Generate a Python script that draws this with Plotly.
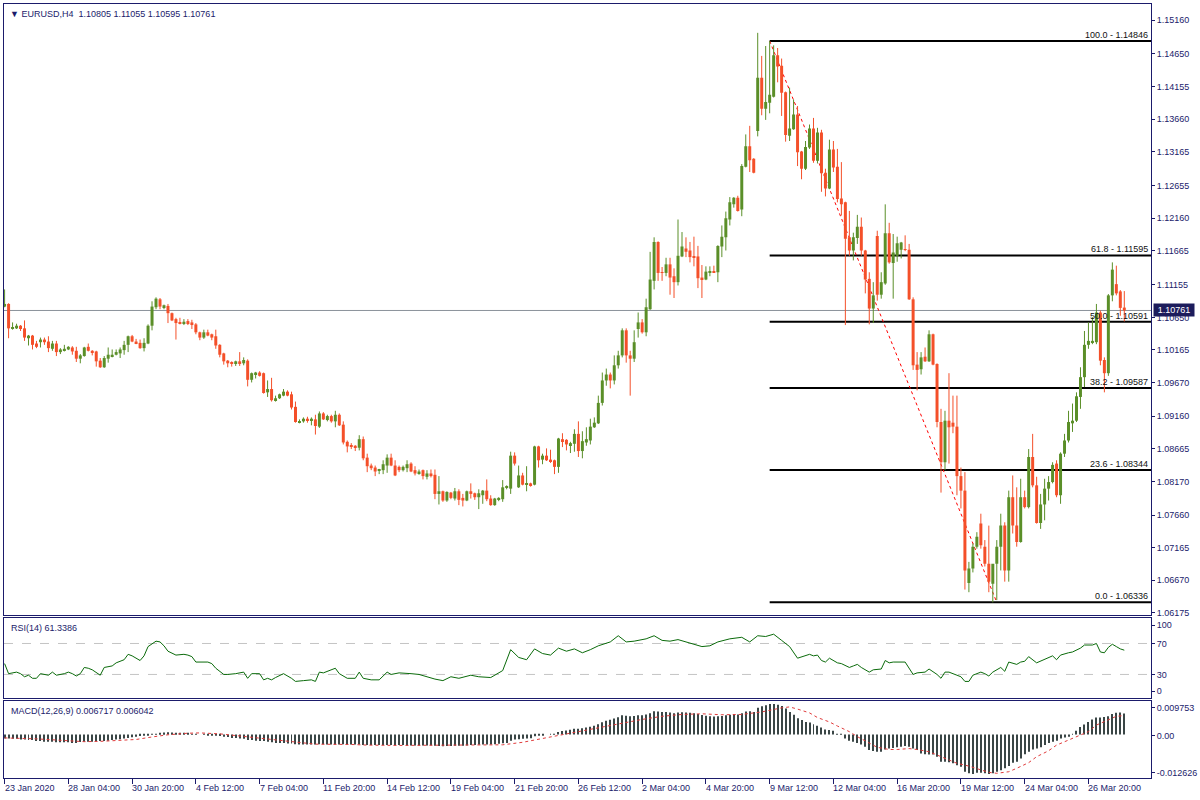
import plotly.graph_objects as go

# ---------------- data (EURUSD H4, bar index 0..281) ----------------
opens = [
1.1082, 1.1086, 1.1049, 1.1049, 1.1053, 1.1049, 1.1034, 1.1038, 1.1026, 1.1028,
1.1032, 1.1029, 1.1018, 1.1026, 1.1013, 1.1015, 1.1017, 1.1020, 1.1015, 1.1003,
1.1007, 1.1021, 1.1015, 1.1014, 1.1000, 1.0990, 1.1003, 1.1006, 1.1009, 1.1011,
1.1016, 1.1024, 1.1037, 1.1029, 1.1027, 1.1019, 1.1026, 1.1053, 1.1081, 1.1093,
1.1081, 1.1083, 1.1072, 1.1063, 1.1058, 1.1057, 1.1060, 1.1058, 1.1055, 1.1043,
1.1035, 1.1043, 1.1040, 1.1037, 1.1024, 1.1011, 1.1000, 1.0998, 1.0996, 1.0999,
1.0996, 1.1000, 1.0971, 1.0979, 1.0982, 1.0981, 1.0952, 1.0957, 1.0940, 1.0943,
1.0947, 1.0953, 1.0949, 1.0930, 1.0907, 1.0908, 1.0912, 1.0909, 1.0911, 1.0900,
1.0920, 1.0910, 1.0916, 1.0908, 1.0918, 1.0903, 1.0877, 1.0872, 1.0871, 1.0868,
1.0881, 1.0853, 1.0841, 1.0838, 1.0833, 1.0834, 1.0841, 1.0853, 1.0841, 1.0839,
1.0834, 1.0837, 1.0844, 1.0834, 1.0829, 1.0834, 1.0824, 1.0829, 1.0827, 1.0798,
1.0802, 1.0788, 1.0800, 1.0791, 1.0802, 1.0792, 1.0788, 1.0802, 1.0799, 1.0793,
1.0796, 1.0803, 1.0791, 1.0781, 1.0790, 1.0790, 1.0808, 1.0806, 1.0856, 1.0808,
1.0826, 1.0812, 1.0814, 1.0812, 1.0870, 1.0850, 1.0856, 1.0850, 1.0849, 1.0839,
1.0881, 1.0880, 1.0872, 1.0874, 1.0889, 1.0863, 1.0876, 1.0879, 1.0899, 1.0905,
1.0936, 1.0970, 1.0979, 1.0970, 1.0993, 1.1008, 1.1046, 1.1008, 1.1003, 1.1048,
1.1058, 1.1043, 1.1078, 1.1121, 1.1180, 1.1134, 1.1133, 1.1146, 1.1128, 1.1119,
1.1158, 1.1170, 1.1167, 1.1158, 1.1158, 1.1126, 1.1123, 1.1133, 1.1136, 1.1134,
1.1173, 1.1187, 1.1214, 1.1237, 1.1247, 1.1229, 1.1294, 1.1325, 1.1306, 1.1348,
1.1429, 1.1382, 1.1391, 1.1400, 1.1463, 1.1447, 1.1407, 1.1341, 1.1351, 1.1373,
1.1317, 1.1291, 1.1323, 1.1352, 1.1303, 1.1346, 1.1285, 1.1261, 1.1320, 1.1294,
1.1246, 1.1240, 1.1187, 1.1167, 1.1186, 1.1203, 1.1167, 1.1124, 1.1079, 1.1189,
1.1100, 1.1117, 1.1193, 1.1148, 1.1159, 1.1168, 1.1169, 1.1168, 1.1093, 1.0994,
1.0987, 1.1006, 1.0999, 1.1040, 1.0995, 1.0907, 1.0846, 1.0909, 1.0906, 1.0900,
1.0825, 1.0803, 1.0663, 1.0685, 1.0718, 1.0753, 1.0718, 1.0692, 1.0662, 1.0692,
1.0718, 1.0750, 1.0682, 1.0793, 1.0750, 1.0725, 1.0793, 1.0778, 1.0854, 1.0811,
1.0754, 1.0782, 1.0806, 1.0816, 1.0844, 1.0796, 1.0859, 1.0879, 1.0905, 1.0909,
1.0945, 1.0975, 1.1024, 1.1028, 1.1028, 1.1073, 1.1001, 1.0981, 1.1099, 1.1116,
1.1105, 1.10805]

highs = [
1.1108, 1.1087, 1.1058, 1.1056, 1.1054, 1.1061, 1.1039, 1.1039, 1.1030, 1.1035,
1.1035, 1.1037, 1.1030, 1.1030, 1.1019, 1.1024, 1.1022, 1.1022, 1.1021, 1.1010,
1.1021, 1.1026, 1.1016, 1.1015, 1.1004, 1.1007, 1.1020, 1.1017, 1.1017, 1.1020,
1.1030, 1.1038, 1.1039, 1.1033, 1.1032, 1.1034, 1.1055, 1.1090, 1.1096, 1.1095,
1.1085, 1.1086, 1.1073, 1.1065, 1.1065, 1.1063, 1.1063, 1.1062, 1.1057, 1.1044,
1.1047, 1.1047, 1.1041, 1.1047, 1.1025, 1.1012, 1.1001, 1.0999, 1.1000, 1.1013,
1.1005, 1.1002, 1.0982, 1.0983, 1.0984, 1.0982, 1.0970, 1.0974, 1.0947, 1.0950,
1.0957, 1.0955, 1.0953, 1.0938, 1.0911, 1.0914, 1.0915, 1.0914, 1.0918, 1.0923,
1.0922, 1.0918, 1.0918, 1.0924, 1.0920, 1.0908, 1.0879, 1.0875, 1.0872, 1.0887,
1.0885, 1.0859, 1.0844, 1.0841, 1.0836, 1.0849, 1.0858, 1.0859, 1.0849, 1.0841,
1.0841, 1.0849, 1.0846, 1.0840, 1.0835, 1.0835, 1.0834, 1.0835, 1.0835, 1.0825,
1.0803, 1.0802, 1.0801, 1.0807, 1.0805, 1.0798, 1.0803, 1.0814, 1.0800, 1.0805,
1.0804, 1.0820, 1.0796, 1.0792, 1.0793, 1.0819, 1.0811, 1.0862, 1.0861, 1.0841,
1.0830, 1.0840, 1.0815, 1.0871, 1.0871, 1.0859, 1.0867, 1.0865, 1.0850, 1.0883,
1.0890, 1.0881, 1.0877, 1.0896, 1.0908, 1.0893, 1.0899, 1.0912, 1.0914, 1.0947,
1.0982, 1.0988, 1.0982, 1.1008, 1.1015, 1.1049, 1.1049, 1.1015, 1.1046, 1.1073,
1.1063, 1.1094, 1.1165, 1.1187, 1.1181, 1.1142, 1.1156, 1.1156, 1.1140, 1.1214,
1.1195, 1.1187, 1.1180, 1.1188, 1.1174, 1.1145, 1.1143, 1.1143, 1.1144, 1.1175,
1.1205, 1.1226, 1.1248, 1.1248, 1.1250, 1.1298, 1.1343, 1.1356, 1.1307, 1.1497,
1.1462, 1.1477, 1.14846, 1.1478, 1.1474, 1.1458, 1.1408, 1.1414, 1.1396, 1.1386,
1.1318, 1.1333, 1.1358, 1.1368, 1.1353, 1.1350, 1.1291, 1.1335, 1.1333, 1.1321,
1.1301, 1.1241, 1.1227, 1.1194, 1.1221, 1.1217, 1.1168, 1.1134, 1.1119, 1.1197,
1.1134, 1.1237, 1.1209, 1.1192, 1.1188, 1.1180, 1.1190, 1.1177, 1.1096, 1.1013,
1.1013, 1.1020, 1.1046, 1.1041, 1.0996, 1.0927, 1.0924, 1.0981, 1.0947, 1.0947,
1.0838, 1.0831, 1.0695, 1.0723, 1.0740, 1.0768, 1.0728, 1.0750, 1.0690, 1.0728,
1.0768, 1.0755, 1.0803, 1.0826, 1.0808, 1.0821, 1.0803, 1.0866, 1.0889, 1.0824,
1.0798, 1.0821, 1.0825, 1.0846, 1.0849, 1.0861, 1.0889, 1.0924, 1.0935, 1.0952,
1.0990, 1.1045, 1.1058, 1.1066, 1.1086, 1.1076, 1.1005, 1.1101, 1.1149, 1.1144,
1.1107, 1.11055]

lows = [
1.1081, 1.1034, 1.1047, 1.1048, 1.1045, 1.1030, 1.1023, 1.1017, 1.1019, 1.1020,
1.1024, 1.1013, 1.1015, 1.1007, 1.1010, 1.1014, 1.1016, 1.1009, 1.0998, 1.0996,
1.1006, 1.1014, 1.1008, 1.0991, 1.0989, 1.0989, 1.0997, 1.1005, 1.1008, 1.1004,
1.1009, 1.1013, 1.1028, 1.1025, 1.1018, 1.1014, 1.1025, 1.1046, 1.1078, 1.1078,
1.1078, 1.1057, 1.1060, 1.1032, 1.1055, 1.1054, 1.1054, 1.1048, 1.1040, 1.1031,
1.1033, 1.1037, 1.1031, 1.1018, 1.1005, 1.0994, 1.0990, 1.0991, 1.0992, 1.0992,
1.0993, 1.0961, 1.0967, 1.0973, 1.0976, 1.0950, 1.0945, 1.0938, 1.0938, 1.0942,
1.0946, 1.0946, 1.0926, 1.0906, 1.0905, 1.0906, 1.0906, 1.0902, 1.0888, 1.0898,
1.0910, 1.0908, 1.0906, 1.0899, 1.0901, 1.0873, 1.0861, 1.0866, 1.0863, 1.0864,
1.0849, 1.0831, 1.0834, 1.0825, 1.0828, 1.0828, 1.0830, 1.0840, 1.0825, 1.0831,
1.0832, 1.0831, 1.0831, 1.0826, 1.0827, 1.0820, 1.0820, 1.0823, 1.0790, 1.0782,
1.0786, 1.0786, 1.0790, 1.0788, 1.0781, 1.0779, 1.0787, 1.0791, 1.0789, 1.0775,
1.0783, 1.0787, 1.0780, 1.0780, 1.0787, 1.0786, 1.0805, 1.0798, 1.0841, 1.0807,
1.0811, 1.0802, 1.0809, 1.0811, 1.0838, 1.0843, 1.0848, 1.0845, 1.0828, 1.0830,
1.0869, 1.0864, 1.0860, 1.0862, 1.0854, 1.0852, 1.0871, 1.0873, 1.0898, 1.0904,
1.0932, 1.0962, 1.0958, 1.0964, 1.0988, 1.1005, 1.0997, 1.0947, 1.0998, 1.1035,
1.1041, 1.1037, 1.1077, 1.1108, 1.1121, 1.1121, 1.1128, 1.1100, 1.1095, 1.1114,
1.1157, 1.1157, 1.1149, 1.1143, 1.1110, 1.1095, 1.1122, 1.1128, 1.1133, 1.1119,
1.1157, 1.1167, 1.1205, 1.1232, 1.1226, 1.1219, 1.1293, 1.1286, 1.1284, 1.1340,
1.1372, 1.1365, 1.1375, 1.1399, 1.1422, 1.1371, 1.1332, 1.1333, 1.1350, 1.1295,
1.1275, 1.1289, 1.1321, 1.1300, 1.1299, 1.1256, 1.1249, 1.1260, 1.1286, 1.1240,
1.1220, 1.1054, 1.1159, 1.1152, 1.1177, 1.1159, 1.1102, 1.1055, 1.1057, 1.1091,
1.1094, 1.1115, 1.1147, 1.1094, 1.1150, 1.1155, 1.1166, 1.1092, 1.0986, 1.0955,
1.0979, 1.0998, 1.0998, 1.0993, 1.0899, 1.0800, 1.0834, 1.0844, 1.0890, 1.0796,
1.0776, 1.0653, 1.0649, 1.0679, 1.0715, 1.0715, 1.0688, 1.0649, 1.06336, 1.0637,
1.0682, 1.0665, 1.0665, 1.0738, 1.0718, 1.0724, 1.0776, 1.0776, 1.0808, 1.0753,
1.0745, 1.0758, 1.0788, 1.0814, 1.0793, 1.0783, 1.0854, 1.0876, 1.0892, 1.0907,
1.0927, 1.0960, 1.1018, 1.1025, 1.1025, 1.0993, 1.0952, 1.0977, 1.1090, 1.1099,
1.1068, 1.10595]

closes = [
1.1086, 1.1049, 1.1051, 1.1053, 1.1048, 1.1035, 1.1038, 1.1024, 1.1021, 1.1032,
1.1028, 1.1019, 1.1026, 1.1013, 1.1017, 1.1018, 1.1021, 1.1014, 1.1003, 1.1008,
1.1020, 1.1015, 1.1012, 1.0999, 1.0990, 1.1004, 1.1009, 1.1009, 1.1013, 1.1017,
1.1024, 1.1037, 1.1029, 1.1026, 1.1019, 1.1027, 1.1053, 1.1082, 1.1094, 1.1082,
1.1084, 1.1072, 1.1061, 1.1057, 1.1056, 1.1059, 1.1057, 1.1054, 1.1043, 1.1035,
1.1043, 1.1038, 1.1035, 1.1023, 1.1009, 1.0999, 1.0996, 1.0996, 1.0999, 1.0995,
1.1001, 1.0971, 1.0981, 1.0982, 1.0977, 1.0951, 1.0957, 1.0940, 1.0943, 1.0949,
1.0953, 1.0947, 1.0929, 1.0907, 1.0908, 1.0912, 1.0909, 1.0912, 1.0901, 1.0920,
1.0911, 1.0916, 1.0908, 1.0918, 1.0902, 1.0876, 1.0870, 1.0870, 1.0868, 1.0881,
1.0852, 1.0840, 1.0837, 1.0832, 1.0835, 1.0843, 1.0853, 1.0841, 1.0826, 1.0834,
1.0839, 1.0843, 1.0832, 1.0829, 1.0832, 1.0825, 1.0829, 1.0825, 1.0798, 1.0802,
1.0788, 1.0801, 1.0792, 1.0802, 1.0789, 1.0788, 1.0802, 1.0798, 1.0793, 1.0799,
1.0803, 1.0790, 1.0781, 1.0791, 1.0792, 1.0808, 1.0808, 1.0856, 1.0844, 1.0826,
1.0812, 1.0814, 1.0810, 1.0870, 1.0849, 1.0856, 1.0849, 1.0847, 1.0839, 1.0882,
1.0878, 1.0873, 1.0875, 1.0889, 1.0863, 1.0878, 1.0881, 1.0900, 1.0906, 1.0936,
1.0970, 1.0979, 1.0970, 1.0993, 1.1008, 1.1046, 1.1008, 1.1003, 1.1028, 1.1058,
1.1043, 1.1081, 1.1123, 1.1180, 1.1133, 1.1133, 1.1146, 1.1126, 1.1119, 1.1159,
1.1173, 1.1165, 1.1157, 1.1157, 1.1125, 1.1123, 1.1135, 1.1136, 1.1134, 1.1174,
1.1188, 1.1216, 1.1240, 1.1247, 1.1227, 1.1295, 1.1325, 1.1304, 1.1285, 1.1429,
1.1382, 1.1392, 1.1403, 1.1463, 1.1446, 1.1406, 1.1342, 1.1352, 1.1373, 1.1316,
1.1291, 1.1324, 1.1352, 1.1303, 1.1346, 1.1284, 1.1261, 1.1320, 1.1293, 1.1245,
1.1237, 1.1185, 1.1167, 1.1187, 1.1203, 1.1167, 1.1123, 1.1079, 1.1099, 1.1100,
1.1119, 1.1193, 1.1149, 1.1164, 1.1178, 1.1179, 1.1168, 1.1093, 1.0993, 1.0986,
1.1005, 1.0999, 1.1040, 1.0994, 1.0907, 1.0846, 1.0909, 1.0899, 1.0900, 1.0825,
1.0803, 1.0682, 1.0685, 1.0718, 1.0733, 1.0720, 1.0692, 1.0665, 1.0692, 1.0718,
1.0750, 1.0682, 1.0793, 1.0750, 1.0725, 1.0793, 1.0778, 1.0854, 1.0811, 1.0754,
1.0782, 1.0806, 1.0816, 1.0842, 1.0796, 1.0859, 1.0879, 1.0907, 1.0909, 1.0946,
1.0975, 1.1024, 1.1030, 1.1030, 1.1073, 1.1000, 1.0981, 1.1099, 1.1138, 1.1102,
1.1080, 1.10761]

# RSI(14) readings (bar index, value)
rsi_bars = [0, 1, 3, 4, 5, 6, 7, 8, 9, 11, 12, 13, 15, 16, 17, 18, 19, 20, 21, 22,
            24, 25, 27, 28, 30, 31, 32, 34, 35, 36, 38, 39, 40, 41, 43, 45, 46, 47, 48, 50,
            51, 52, 53, 55, 56, 58, 60, 61, 62, 64, 65, 66, 67, 68, 70, 72, 73, 75, 77, 78,
            79, 80, 81, 83, 84, 86, 88, 89, 90, 92, 94, 96, 97, 99,
            102, 104, 108, 110, 112, 114, 117, 119, 122, 125, 127, 129, 131, 133, 135, 137,
            139, 141, 143, 145, 147, 149, 152, 154, 156, 158, 161, 163, 165, 167, 169, 171,
            173, 175, 177, 179, 182, 185, 187, 189, 191, 193, 195, 197,
            199, 200, 202, 203, 204, 205, 206, 207, 209, 210, 212, 213, 214, 215, 217, 218,
            220, 221, 222, 223, 226, 228, 229, 231, 232, 234, 235, 236, 237, 239, 240, 241,
            242, 243, 245, 246, 247, 248, 250, 251, 252, 254, 255, 256, 257, 259, 261, 262,
            263, 264, 265, 267, 268, 270, 271, 273, 274, 275, 276, 277, 278, 279, 280, 281]
rsi_values = [44, 31, 33, 31, 27, 29, 25, 25, 31, 29, 33, 29, 31, 33, 31, 28, 31, 39, 38, 36,
              29, 39, 41, 45, 49, 56, 54, 48, 54, 66, 73, 72, 67, 60, 55, 56, 55, 53, 46, 46,
              46, 44, 38, 30, 30, 31, 33, 25, 31, 31, 23, 25, 23, 26, 31, 25, 21, 22, 23, 21,
              33, 32, 34, 38, 31, 25, 25, 33, 25, 23, 23, 33, 30, 32,
              31, 30, 24, 22, 27, 25, 29, 27, 26, 35, 62, 52, 49, 63, 57, 55,
              64, 60, 63, 58, 62, 67, 72, 80, 72, 73, 76, 80, 74, 73, 75, 72,
              70, 66, 67, 72, 76, 78, 72, 80, 79, 82, 74, 66,
              51, 53, 56, 54, 55, 48, 46, 51, 45, 44, 39, 41, 43, 39, 33, 36,
              37, 48, 45, 46, 46, 30, 32, 33, 37, 30, 25, 33, 33, 29, 27, 21,
              21, 29, 33, 31, 28, 33, 39, 34, 46, 43, 46, 47, 53, 45, 49, 52,
              54, 49, 55, 58, 59, 64, 68, 68, 70, 59, 58, 65, 69, 66, 63, 61.3386]

# MACD(12,26,9) main (histogram), one value per bar
macd_main = [
-0.0013, -0.0013, -0.0014, -0.0014, -0.0016, -0.0016, -0.0018, -0.0018, -0.0021, -0.0021,
-0.0023, -0.0023, -0.0023, -0.0025, -0.0025, -0.0025, -0.0025, -0.0027, -0.0027, -0.0024,
-0.0023, -0.0023, -0.0023, -0.0021, -0.0021, -0.0021, -0.0020, -0.0018, -0.0016, -0.0015,
-0.0013, -0.0011, -0.0009, -0.0007, -0.0005, -0.0003, -0.0003, -0.0001, 0.0001, 0.0005,
0.0006, 0.0007, 0.0006, 0.0005, 0.0005, 0.0004, 0.0003, 0.0002, 0.0001, 0.0000,
-0.0001, -0.0002, -0.0003, -0.0003, -0.0005, -0.0007, -0.0008, -0.0011, -0.0011, -0.0013,
-0.0014, -0.0018, -0.0018, -0.0020, -0.0021, -0.0021, -0.0023, -0.0025, -0.0027, -0.0027,
-0.0027, -0.0029, -0.0029, -0.0031, -0.0032, -0.0032, -0.0032, -0.0032, -0.0032, -0.0031,
-0.0031, -0.0032, -0.0032, -0.0032, -0.0032, -0.0031, -0.0031, -0.0032, -0.0032, -0.0032,
-0.0034, -0.0034, -0.0034, -0.0034, -0.0034, -0.0034, -0.0034, -0.0034, -0.0034, -0.0034,
-0.0034, -0.0035, -0.0035, -0.0035, -0.0035, -0.0035, -0.0035, -0.0035, -0.0036, -0.0037,
-0.0038, -0.0037, -0.0037, -0.0036, -0.0036, -0.0036, -0.0035, -0.0034, -0.0034, -0.0033,
-0.0032, -0.0032, -0.0032, -0.0031, -0.0030, -0.0028, -0.0027, -0.0020, -0.0016, -0.0015,
-0.0014, -0.0013, -0.0012, -0.0006, -0.0004, -0.0002, 0.0000, 0.0001, 0.0002, 0.0008,
0.0011, 0.0013, 0.0015, 0.0018, 0.0018, 0.0020, 0.0022, 0.0025, 0.0028, 0.0033,
0.0039, 0.0044, 0.0047, 0.0051, 0.0055, 0.0061, 0.0060, 0.0058, 0.0059, 0.0061,
0.0061, 0.0064, 0.0068, 0.0074, 0.0073, 0.0072, 0.0072, 0.0070, 0.0068, 0.0070,
0.0071, 0.0070, 0.0069, 0.0068, 0.0065, 0.0062, 0.0060, 0.0058, 0.0057, 0.0058,
0.0059, 0.0061, 0.0063, 0.0065, 0.0064, 0.0068, 0.0073, 0.0074, 0.0072, 0.0085,
0.0090, 0.0093, 0.0097, 0.009753, 0.0095, 0.0091, 0.0083, 0.0072, 0.0063, 0.0052,
0.0046, 0.0040, 0.0038, 0.0033, 0.0028, 0.0022, 0.0016, 0.0014, 0.0012, 0.0001,
-0.0001, -0.0013, -0.0020, -0.0023, -0.0027, -0.0032, -0.0039, -0.0050, -0.0053, -0.0055,
-0.0055, -0.0048, -0.0045, -0.0043, -0.0041, -0.0039, -0.0037, -0.0039, -0.0045, -0.0050,
-0.0061, -0.0063, -0.0064, -0.0064, -0.0071, -0.0087, -0.0087, -0.0089, -0.0092, -0.0098,
-0.0103, -0.0119, -0.0124, -0.012626, -0.0122, -0.0122, -0.0124, -0.0126, -0.0124, -0.0119,
-0.0114, -0.0108, -0.0101, -0.0090, -0.0087, -0.0077, -0.0063, -0.0055, -0.0048, -0.0045,
-0.0041, -0.0034, -0.0027, -0.0023, -0.0020, -0.0013, -0.0010, -0.0007, 0.0001, 0.0012,
0.0024, 0.0032, 0.0040, 0.0048, 0.0054, 0.0054, 0.0056, 0.0058, 0.0065, 0.0069,
0.0070, 0.006717]

# MACD signal line readings (bar index, value)
signal_bars = [0, 8, 16, 20, 24, 33, 37, 41, 46, 49, 54, 59, 66, 74, 78, 87, 91, 99,
               110, 120, 125, 130, 135, 140, 145, 150, 155, 160, 165, 170, 175, 180, 185,
               190, 195, 197, 199, 202, 204, 207, 209, 212, 214, 217, 219, 222, 224, 227,
               229, 232, 234, 237, 239, 242, 244, 247, 249, 252, 254, 257, 259, 262, 264,
               267, 269, 272, 274, 277, 279, 281]
signal_values = [-0.0011, -0.0014, -0.0020, -0.0023, -0.0022, -0.0016, -0.0008, -0.0001, 0.0004,
                 0.0005, 0.0002, -0.0005, -0.0016, -0.0027, -0.0031, -0.0032, -0.0034, -0.0035,
                 -0.0035, -0.0035, -0.0033, -0.0025, -0.0013, -0.0001, 0.0012, 0.0023, 0.0037,
                 0.0048, 0.0058, 0.0064, 0.0066, 0.0063, 0.0064, 0.0072, 0.0085, 0.0088, 0.0081,
                 0.0069, 0.0054, 0.0040, 0.0027, 0.0009, -0.0007, -0.0029, -0.0041, -0.0048,
                 -0.0048, -0.0045, -0.0048, -0.0055, -0.0066, -0.0080, -0.0092, -0.0101, -0.0110,
                 -0.0121, -0.0124, -0.0119, -0.0108, -0.0090, -0.0071, -0.0052, -0.0034, -0.0018,
                 -0.0005, 0.0009, 0.0030, 0.0048, 0.0058, 0.006042]

# Fibonacci retracement
fib_levels = [100.0, 61.8, 50.0, 38.2, 23.6, 0.0]
fib_prices = [1.14846, 1.11595, 1.10591, 1.09587, 1.08344, 1.06336]
fib_start_bar = 192
fib_end_bar = 249
last_price = 1.10761

# axis tick labels
time_tick_bars = [0, 16, 32, 48, 64, 80, 96, 112, 128, 144, 160, 176, 192, 208, 224, 240, 256, 272]
time_tick_labels = ["23 Jan 2020", "28 Jan 04:00", "30 Jan 20:00", "4 Feb 12:00", "7 Feb 04:00",
                    "11 Feb 20:00", "14 Feb 12:00", "19 Feb 04:00", "21 Feb 20:00", "26 Feb 12:00",
                    "2 Mar 04:00", "4 Mar 20:00", "9 Mar 12:00", "12 Mar 04:00", "16 Mar 20:00",
                    "19 Mar 12:00", "24 Mar 04:00", "26 Mar 20:00"]
price_tick_labels = ["1.15160", "1.14650", "1.14155", "1.13660", "1.13165", "1.12655", "1.12160",
                     "1.11665", "1.11155", "1.10650", "1.10165", "1.09670", "1.09160", "1.08665",
                     "1.08170", "1.07660", "1.07165", "1.06670", "1.06175"]

# ---------------- figure ----------------
GREEN = "#5b8f29"
RED = "#f4502a"
NAVY = "#1b1b6b"
FONT = "Liberation Sans, Arial, sans-serif"

n = min(len(opens), len(highs), len(lows), len(closes))
bars = list(range(n))
up = [i for i in bars if closes[i] >= opens[i]]
dn = [i for i in bars if closes[i] < opens[i]]

fig = go.Figure()

for sel, col in ((up, GREEN), (dn, RED)):
    wx, wy = [], []
    for i in sel:
        wx += [i, i, None]
        wy += [highs[i], lows[i], None]
    fig.add_trace(go.Scatter(x=wx, y=wy, mode="lines", line=dict(color=col, width=1),
                             hoverinfo="skip", xaxis="x", yaxis="y"))

body_base = [min(opens[i], closes[i]) for i in bars]
body_h = [max(abs(closes[i] - opens[i]), 0.00006) for i in bars]
body_col = [GREEN if closes[i] >= opens[i] else RED for i in bars]
fig.add_trace(go.Bar(x=bars, y=body_h, base=body_base, width=0.75,
                     marker=dict(color=body_col, line=dict(width=0)),
                     xaxis="x", yaxis="y"))

# RSI
fig.add_trace(go.Scatter(x=rsi_bars, y=rsi_values, mode="lines",
                         line=dict(color="#0a6a0a", width=1), xaxis="x2", yaxis="y2"))

# MACD
fig.add_trace(go.Bar(x=list(range(len(macd_main))), y=macd_main, width=0.25,
                     marker=dict(color="#3a4646", line=dict(width=0)),
                     xaxis="x3", yaxis="y3"))
fig.add_trace(go.Scatter(x=signal_bars, y=signal_values, mode="lines",
                         line=dict(color="#e03c3c", width=1, dash="dot"),
                         xaxis="x3", yaxis="y3"))

XR = [-0.15, 287.7]
axis_common = dict(showline=True, mirror=True, linecolor=NAVY, linewidth=1,
                   showgrid=False, zeroline=False)

shapes = []
shapes.append(dict(type="line", xref="x domain", yref="y", x0=0, x1=1,
                   y0=last_price, y1=last_price, line=dict(color="#8b929b", width=1), layer="below"))
for lv in (70, 30):
    shapes.append(dict(type="line", xref="x2 domain", yref="y2", x0=0, x1=1, y0=lv, y1=lv,
                       line=dict(color="#c4c4c4", width=1, dash="dash"), layer="below"))
for p in fib_prices:
    shapes.append(dict(type="line", xref="x", yref="y", x0=fib_start_bar, x1=XR[1],
                       y0=p, y1=p, line=dict(color="black", width=2), layer="below"))
shapes.append(dict(type="line", xref="x", yref="y", x0=fib_start_bar, x1=fib_end_bar,
                   y0=fib_prices[0], y1=fib_prices[-1],
                   line=dict(color="#ff0000", width=1, dash="dot"), layer="below"))

ann = []
ann.append(dict(xref="paper", yref="paper", x=0, y=1, xanchor="left", yanchor="top",
                xshift=4, yshift=-3, showarrow=False,
                text="▼ EURUSD,H4\u00a0\u00a01.10805 1.11055 1.10595 1.10761",
                font=dict(family=FONT, size=9, color=NAVY)))
ann.append(dict(xref="paper", yref="paper", x=0, y=0.2061, xanchor="left", yanchor="top",
                xshift=5, yshift=-3, showarrow=False, text="RSI(14) 61.3386",
                font=dict(family=FONT, size=9, color=NAVY)))
ann.append(dict(xref="paper", yref="paper", x=0, y=0.0997, xanchor="left", yanchor="top",
                xshift=5, yshift=-3, showarrow=False, text="MACD(12,26,9) 0.006717 0.006042",
                font=dict(family=FONT, size=9, color=NAVY)))
for lv, p in zip(fib_levels, fib_prices):
    ann.append(dict(xref="paper", yref="y", x=1, y=p, xanchor="right", yanchor="bottom",
                    xshift=-1, yshift=-1, showarrow=False,
                    text=f"{lv:.1f} - {p:.5f}", font=dict(family=FONT, size=9, color="#111111")))
ann.append(dict(xref="paper", yref="y", x=1, y=last_price, xanchor="left", yanchor="middle",
                xshift=2, showarrow=False, text=f"{last_price:.5f}", bgcolor="#1c1c5c",
                width=40, height=12, borderpad=0,
                font=dict(family=FONT, size=9, color="white")))
for b, t in zip(time_tick_bars, time_tick_labels):
    ann.append(dict(xref="x3", yref="paper", x=b, y=0, xanchor="left", yanchor="top",
                    xshift=-2, yshift=-3, showarrow=False, text=t,
                    font=dict(family=FONT, size=9, color=NAVY)))

fig.update_layout(
    width=1200, height=800,
    margin=dict(l=3, r=46, t=3, b=22),
    paper_bgcolor="white", plot_bgcolor="white",
    showlegend=False, barmode="overlay",
    xaxis=dict(domain=[0, 1], anchor="y", range=XR, showticklabels=False, ticks="", **axis_common),
    xaxis2=dict(domain=[0, 1], anchor="y2", matches="x", range=XR, showticklabels=False, ticks="",
                **axis_common),
    xaxis3=dict(domain=[0, 1], anchor="y3", matches="x", range=XR, showticklabels=False,
                ticks="outside", ticklen=5, tickcolor=NAVY, tickvals=time_tick_bars, **axis_common),
    yaxis=dict(domain=[0.2103, 1], anchor="x", side="right", range=[1.06141, 1.15407],
               tickvals=[float(t) for t in price_tick_labels], ticktext=price_tick_labels,
               ticks="outside", ticklen=3, tickcolor=NAVY,
               tickfont=dict(family=FONT, size=9, color=NAVY), **axis_common),
    yaxis2=dict(domain=[0.1028, 0.2061], anchor="x2", side="right", range=[-1, 102.3],
                tickvals=[93.6, 70, 30, 8.5], ticktext=["100", "70", "30", "0"],
                ticks="outside", ticklen=3, tickcolor=NAVY,
                tickfont=dict(family=FONT, size=9, color=NAVY), **axis_common),
    yaxis3=dict(domain=[0, 0.0997], anchor="x3", side="right", range=[-0.0139, 0.01074],
                tickvals=[0.00851, -0.00041, -0.01221], ticktext=["0.009753", "0.00", "-0.012626"],
                ticks="outside", ticklen=3, tickcolor=NAVY,
                tickfont=dict(family=FONT, size=9, color=NAVY), **axis_common),
    shapes=shapes, annotations=ann,
    font=dict(family=FONT, size=9, color=NAVY),
)

fig.write_html("out.html",
               config={"displayModeBar": False},
               post_script="document.body.style.margin='0';document.body.style.overflow='hidden';")
